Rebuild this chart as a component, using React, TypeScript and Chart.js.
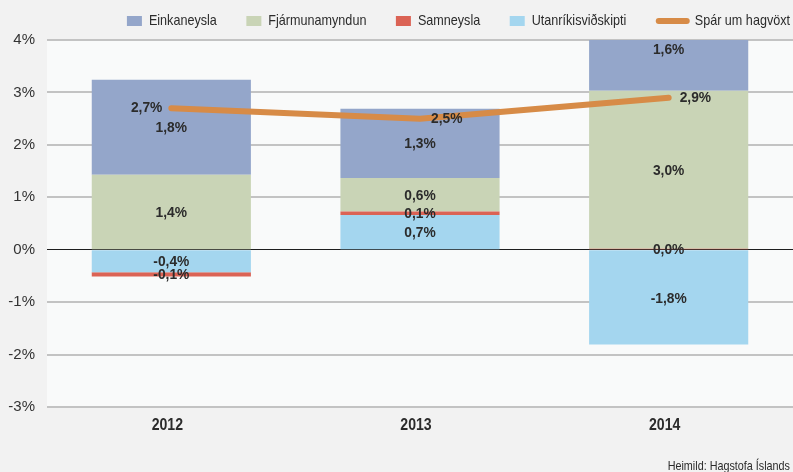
import React, { useEffect, useRef } from "react";
import { Chart, registerables } from "chart.js";

Chart.register(...registerables);

const categories = ["2012", "2013", "2014"];
const seriesNames = ["Einkaneysla", "Fjármunamyndun", "Samneysla", "Utanríkisviðskipti", "Spár um hagvöxt"];
const einkaneysla = [1.81, 1.32, 1.6];
const fjarmunamyndun = [1.43, 0.64, 3.01];
const samneysla = [-0.08, 0.07, 0.02];
const utanrikisvidskipti = [-0.43, 0.66, -1.81];
const sparUmHagvoxt = [2.7, 2.5, 2.9];
const yTicks = [-3, -2, -1, 0, 1, 2, 3, 4];
const sourceText = "Heimild: Hagstofa Íslands";

const FONT = "'Liberation Sans', Arial, sans-serif";
const TEXT = "#2b2b2b";

const fmt = (v: number) => v.toFixed(1).replace(".", ",") + "%";

function drawText(ctx: any, txt: string, x: number, y: number, font: string, sx: number, align: string, baseline = "middle") {
  ctx.save();
  ctx.font = font;
  ctx.textAlign = align;
  ctx.textBaseline = baseline;
  ctx.fillStyle = TEXT;
  ctx.translate(x, y);
  ctx.scale(sx, 1);
  ctx.fillText(txt, 0, 0);
  ctx.restore();
}

const bgPlugin = {
  id: "bgPlugin",
  beforeDraw(chart: any) {
    const { ctx, chartArea: a, width, height } = chart;
    ctx.save();
    ctx.fillStyle = "#f2f2f2";
    ctx.fillRect(0, 0, width, height);
    ctx.fillStyle = "#f9fafa";
    ctx.fillRect(a.left, a.top, a.right - a.left, a.bottom - a.top);
    ctx.restore();
  },
};

const labelPlugin = {
  id: "labelPlugin",
  afterDatasetsDraw(chart: any) {
    const ctx = chart.ctx;
    const f = `bold 15px ${FONT}`;
    chart.data.datasets.forEach((ds: any, di: number) => {
      const meta = chart.getDatasetMeta(di);
      meta.data.forEach((el: any, i: number) => {
        const txt = fmt(ds.data[i]);
        if (meta.type === "bar") {
          drawText(ctx, txt, el.x, (el.y + el.base) / 2 + 1, f, 0.92, "center");
        } else {
          const left = i === 0;
          drawText(ctx, txt, el.x + (left ? -9 : 11), el.y, f, 0.92, left ? "right" : "left");
        }
      });
    });
    const xs = chart.scales.x;
    categories.forEach((c, i) => {
      drawText(ctx, c, xs.getPixelForValue(i) - 4, 426, `bold 16px ${FONT}`, 0.88, "center");
    });
  },
};

const legendPlugin = {
  id: "legendPlugin",
  afterDraw(chart: any) {
    const ctx = chart.ctx;
    const datasets = chart.data.datasets;
    const order = seriesNames.map((n) => datasets.findIndex((d: any) => d.label === n));
    const lf = `15px ${FONT}`;
    const sx = 0.84;
    ctx.save();
    ctx.font = lf;
    const items = order.map((di: number) => {
      const ds = datasets[di];
      const isLine = ds.type === "line";
      const sw = isLine ? 34 : 15;
      const gap = isLine ? 5 : 7;
      const tw = ctx.measureText(ds.label).width * sx;
      return { ds, isLine, sw, gap, tw, w: sw + gap + tw };
    });
    const spacing = 29.5;
    const total = items.reduce((s: number, it: any) => s + it.w, 0) + spacing * (items.length - 1);
    let x = 790 - total;
    const y = 21;
    items.forEach((it: any) => {
      if (it.isLine) {
        ctx.strokeStyle = it.ds.borderColor;
        ctx.lineWidth = 6;
        ctx.lineCap = "round";
        ctx.beginPath();
        ctx.moveTo(x + 3, y);
        ctx.lineTo(x + it.sw - 3, y);
        ctx.stroke();
      } else {
        ctx.fillStyle = it.ds.backgroundColor;
        ctx.fillRect(x, y - 5, it.sw, 10);
      }
      drawText(ctx, it.ds.label, x + it.sw + it.gap, y, lf, sx, "left");
      x += it.w + spacing;
    });
    ctx.restore();
    drawText(ctx, sourceText, 790, 470, `13px ${FONT}`, 0.83, "right", "alphabetic");
  },
};

export default function App() {
  const ref = useRef<HTMLCanvasElement | null>(null);
  useEffect(() => {
    if (!ref.current) return;
    const barCommon = { type: "bar" as const, barPercentage: 0.64, categoryPercentage: 1, borderWidth: 0 };
    const chart = new Chart(ref.current, {
      type: "bar",
      data: {
        labels: categories,
        datasets: [
          {
            type: "line",
            label: seriesNames[4],
            data: sparUmHagvoxt,
            borderColor: "#d78b47",
            backgroundColor: "#d78b47",
            borderWidth: 6,
            borderCapStyle: "round",
            borderJoinStyle: "round",
            pointRadius: 0,
            tension: 0,
          } as any,
          { ...barCommon, label: seriesNames[3], data: utanrikisvidskipti, backgroundColor: "#a4d6ef" },
          { ...barCommon, label: seriesNames[2], data: samneysla, backgroundColor: "#db6355" },
          { ...barCommon, label: seriesNames[1], data: fjarmunamyndun, backgroundColor: "#c9d4b6" },
          { ...barCommon, label: seriesNames[0], data: einkaneysla, backgroundColor: "#94a6ca" },
        ],
      },
      options: {
        animation: false,
        responsive: true,
        maintainAspectRatio: false,
        layout: { padding: { top: 40, left: 0, right: 0, bottom: 0 } },
        plugins: { legend: { display: false }, tooltip: { enabled: false }, title: { display: false } },
        scales: {
          x: {
            stacked: true,
            grid: { display: false, drawTicks: false },
            border: { display: false },
            ticks: { display: false },
            afterFit: (s: any) => {
              s.height = 65;
            },
          },
          y: {
            stacked: true,
            min: -3,
            max: 4,
            afterBuildTicks: (s: any) => {
              s.ticks = yTicks.map((v) => ({ value: v }));
            },
            grid: {
              color: (c: any) => (c.tick && c.tick.value === 0 ? "#1e1e1e" : "#c3c3c3"),
              lineWidth: (c: any) => (c.tick && c.tick.value === 0 ? 1 : 2),
              drawTicks: false,
            },
            border: { display: false },
            ticks: { callback: (v: any) => v + "%", font: { family: FONT, size: 15 }, color: "#333", padding: 12 },
            afterFit: (s: any) => {
              s.width = 47;
            },
          },
        },
      } as any,
      plugins: [bgPlugin, labelPlugin, legendPlugin],
    });
    return () => chart.destroy();
  }, []);
  return (
    <div style={{ position: "fixed", left: 0, top: 0, width: 793, height: 472 }}>
      <canvas ref={ref} />
    </div>
  );
}
